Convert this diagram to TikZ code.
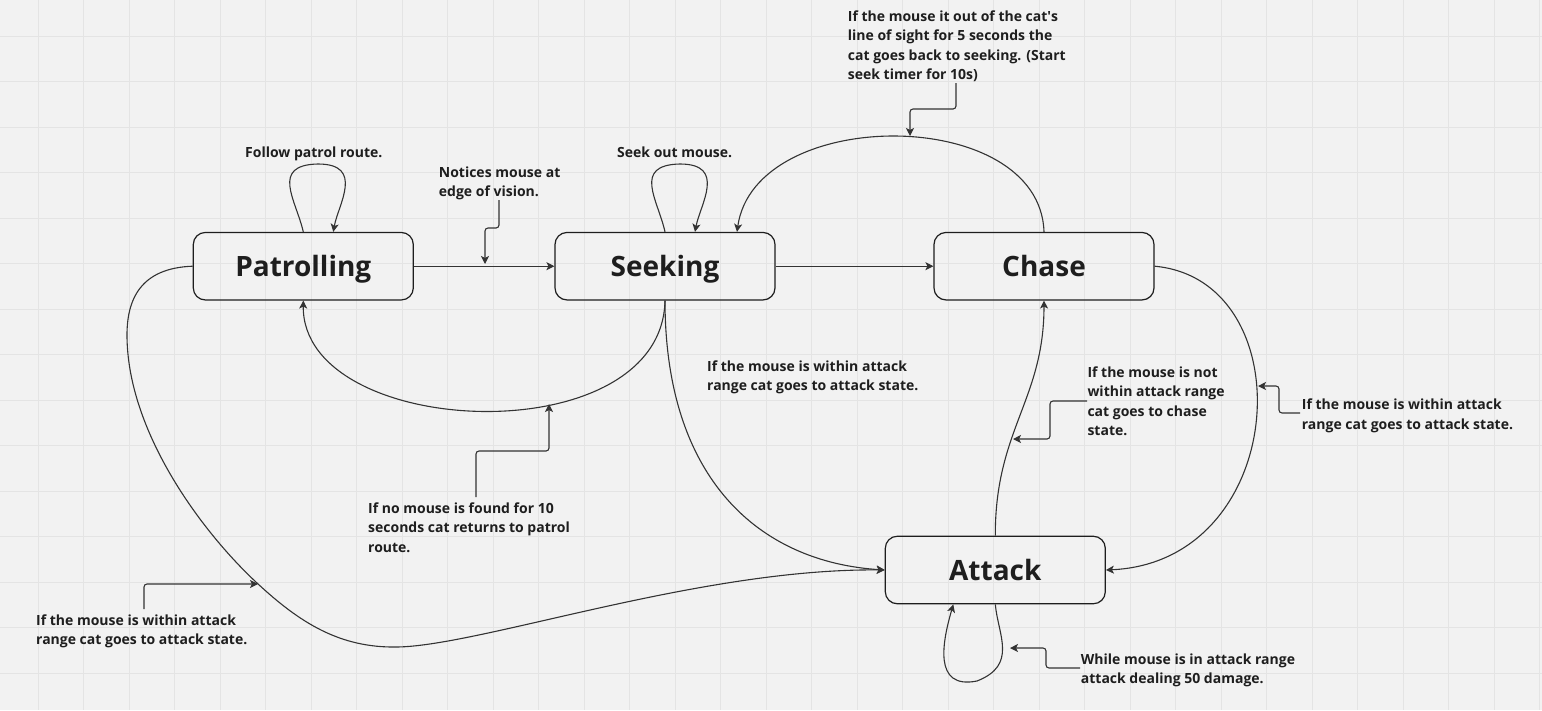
\documentclass[tikz,border=0pt]{standalone}
\usepackage{fontspec}
\setmainfont{Open Sans}
\usetikzlibrary{arrows.meta,calc}
\definecolor{bg}{HTML}{F2F2F2}
\definecolor{gridc}{HTML}{E4E4E4}
\definecolor{ink}{HTML}{1E1E1E}
\definecolor{wire}{HTML}{333333}
\tikzset{
 state/.style={draw=ink, line width=1.2pt, rounded corners=12pt, minimum width=220pt, minimum height=67.5pt, inner sep=0pt, text height=20pt, text depth=0pt, font=\fontsize{28}{30}\selectfont\bfseries, text=ink},
 note/.style={anchor=north west, inner sep=0pt, align=left, font=\fontsize{14}{19.5}\selectfont\bfseries, text=ink},
 wireline/.style={draw=wire, line width=1.1pt, -{Stealth[length=8pt,width=8pt,inset=2pt]}},
 pointer/.style={wireline, rounded corners=3pt},
 gridline/.style={draw=gridc, line width=1pt}
}
\begin{document}
\begin{tikzpicture}[x=1pt,y=-1pt]
\useasboundingbox (0,0) rectangle (1542,710);
\fill[bg] (0,0) rectangle (1542,710);
\foreach \k in {0,...,33} {\draw[gridline] ({38+45.5*\k},0) -- ({38+45.5*\k},710);}
\foreach \k in {0,...,14} {\draw[gridline] (0,{36+45.5*\k}) -- (1542,{36+45.5*\k});}

% states
\node[state] (P) at (303.3,266.2) {Patrolling};
\node[state] (S) at (665,266.2) {Seeking};
\node[state] (C) at (1044,266.2) {Chase};
\node[state] (A) at (995.3,570) {Attack};

% notes
\node[note] (nP) at (245,146.5) {Follow patrol route.};
\node[note] (nPS) at (438.7,166.5) {Notices mouse at\\edge of vision.};
\node[note] (nS) at (617,146.5) {Seek out mouse.};
\node[note] (nCS) at (847.7,10.5) {If the mouse it out of the cat\textquotesingle s\\line of sight for 5 seconds the\\cat goes back to seeking. (Start\\seek timer for 10s)};
\node[note] (nSA) at (707,360.4) {If the mouse is within attack\\range cat goes to attack state.};
\node[note] (nSP) at (368,502.1) {If no mouse is found for 10\\seconds cat returns to patrol\\route.};
\node[note] (nPA) at (36,614.4) {If the mouse is within attack\\range cat goes to attack state.};
\node[note] (nAC) at (1087.3,366.1) {If the mouse is not\\within attack range\\cat goes to chase\\state.};
\node[note] (nCA) at (1301.7,398.7) {If the mouse is within attack\\range cat goes to attack state.};
\node[note] (nAA) at (1080.7,653.4) {While mouse is in attack range\\attack dealing 50 damage.};

% transitions
\draw[wireline] (P.north) .. controls (296,200) and (270,165) .. (318,164) .. controls (365,164) and (338,205) .. ([xshift=30pt]P.north);
\draw[wireline] (S.north) .. controls (658,200) and (632,165) .. (680,164) .. controls (727,164) and (700,205) .. ([xshift=30pt]S.north);
\draw[wireline] (P.east) -- (S.west);
\draw[wireline] (S.east) -- (C.west);
\draw[wireline] (S.south) .. controls (662,455) and (302,440) .. (P.south);
\draw[wireline] (C.north) .. controls (1040,105) and (755,105) .. ([xshift=72pt]S.north);
\draw[wireline] (S.south) .. controls (665,480) and (760,562) .. (A.west);
\draw[wireline] (P.west) .. controls (140,268) and (127,300) .. (127,335) .. controls (127,430) and (200,530) .. (257,583) .. controls (300,623) and (340,648) .. (397,647) .. controls (480,646) and (700,568) .. (A.west);
\draw[wireline] (A.north) .. controls (995,430) and (1044,400) .. (C.south);
\draw[wireline] (C.east) .. controls (1305,280) and (1290,562) .. (A.east);
\draw[wireline] (A.south) .. controls (998,635) and (1018,665) .. (977,681) .. controls (932,690) and (943,640) .. ([xshift=-42pt]A.south);

% pointer arrows from notes
\coordinate (tPS) at (485,264);
\coordinate (tCS) at (910,136);
\coordinate (tSP) at (549,404);
\coordinate (tPA) at (258,584);
\coordinate (tAC) at (1013,439);
\coordinate (tCA) at (1258,386);
\coordinate (tAA) at (1010,648);
\draw[pointer] (499,200) -- (499,228) -- (485,228) -- (tPS);
\draw[pointer] (956,83) -- (956,109) -- (910,109) -- (tCS);
\draw[pointer] (476,497) -- (476,451) -- (549,451) -- (tSP);
\draw[pointer] (144,609) -- (144,584) -- (tPA);
\draw[pointer] (1087,401) -- (1050,401) -- (1050,439) -- (tAC);
\draw[pointer] (1300,413) -- (1279,413) -- (1279,386) -- (tCA);
\draw[pointer] (1080,668) -- (1046,668) -- (1046,648) -- (tAA);
\end{tikzpicture}
\end{document}
